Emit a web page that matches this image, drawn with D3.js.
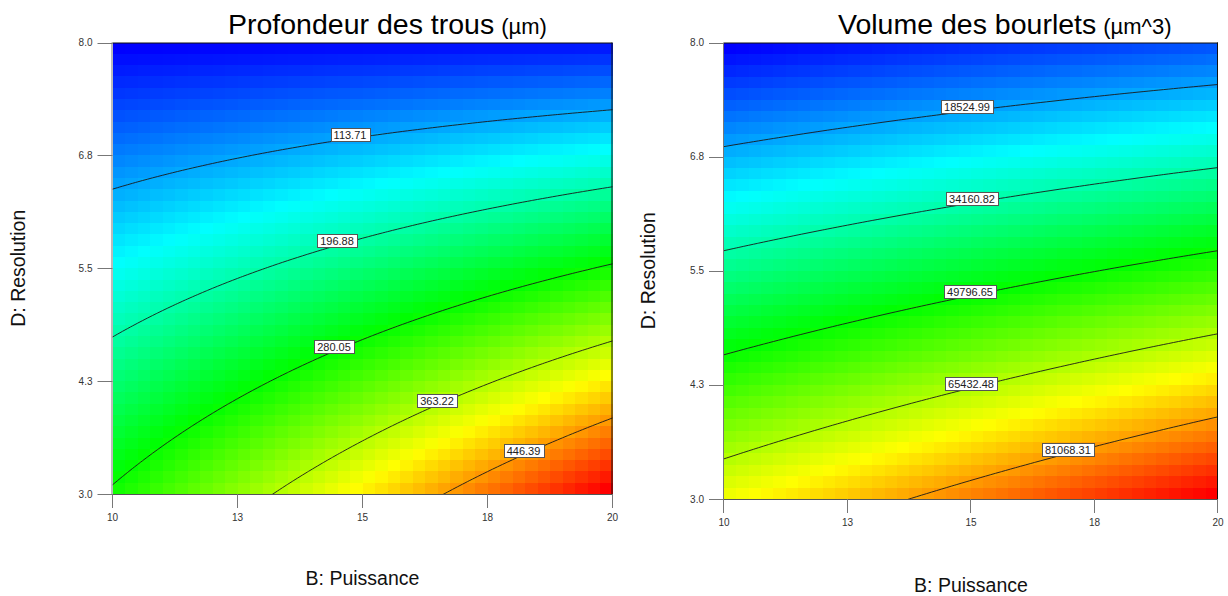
<!DOCTYPE html>
<html><head><meta charset="utf-8">
<script src="https://cdn.jsdelivr.net/npm/d3@7"></script>
<style>
body{margin:0;background:#fff;}
svg{display:block;font-family:Arial,"Liberation Sans",Helvetica,sans-serif;}
</style>
</head><body>
<svg id="chart" width="1228" height="596"></svg>
<script>
// ---- data ----
const puissance = [10, 12, 14, 16, 18, 20];          // B: Puissance (grid columns)
const resolution = [3, 4, 5, 6, 7, 8];               // D: Resolution (grid rows)
// Profondeur des trous (µm) — rows follow resolution, columns follow puissance
const profondeurGrid = [
  [285.2, 333.8, 382.5, 431.1, 479.8, 528.4],
  [234.4, 273.7, 313.0, 352.4, 391.7, 431.0],
  [183.6, 213.6, 243.6, 273.6, 303.6, 333.5],
  [132.8, 153.4, 174.1, 194.8, 215.4, 236.1],
  [ 82.0,  93.3, 104.7, 116.0, 127.3, 138.6],
  [ 31.2,  33.2,  35.2,  37.2,  39.2,  41.2]
];
// Volume des bourlets (µm^3)
const volumeGrid = [
  [71466, 76622, 81706, 86720, 91662, 96532],
  [57750, 62213, 66604, 70924, 75173, 79350],
  [44034, 47804, 51502, 55128, 58684, 62168],
  [30320, 33396, 36400, 39334, 42196, 44986],
  [16604, 18987, 21298, 23538, 25707, 27804],
  [ 2888,  4578,  6196,  7742,  9218, 10622]
];
const profondeurLevels = [113.71, 196.88, 280.05, 363.22, 446.39];
const profondeurLabelAt = [14.75, 14.49, 14.43, 16.49, 18.22];   // B where each label sits
const volumeLevels = [18524.99, 34160.82, 49796.65, 65432.48, 81068.31];
const volumeLabelAt = [14.92, 15.02, 14.98, 15.0, 16.96];
const xTickValues = [10, 12.5, 15, 17.5, 20];
const xTickLabels = ["10", "13", "15", "18", "20"];
const yTickValues = [3, 4.25, 5.5, 6.75, 8];
const yTickLabels = ["3.0", "4.3", "5.5", "6.8", "8.0"];

// ---- smooth surface through the grid (Catmull-Rom) ----
function cr1(p, t) {
  const n = p.length;
  const get = k => k < 0 ? 3*p[0]-3*p[1]+p[2] : (k > n-1 ? 3*p[n-1]-3*p[n-2]+p[n-3] : p[k]);
  let i = Math.floor(t); i = Math.max(0, Math.min(n-2, i));
  const s = t - i;
  const p0 = get(i-1), p1 = get(i), p2 = get(i+1), p3 = get(i+2);
  return 0.5*(2*p1 + (-p0+p2)*s + (2*p0-5*p1+4*p2-p3)*s*s + (-p0+3*p1-3*p2+p3)*s*s*s);
}
function surface(grid) {
  const bx0 = puissance[0], bdx = puissance[1]-puissance[0];
  const dy0 = resolution[0], ddy = resolution[1]-resolution[0];
  return (B, D) => {
    const tx = (B - bx0)/bdx, ty = (D - dy0)/ddy;
    const col = grid.map(row => cr1(row, tx));
    return cr1(col, ty);
  };
}

const svg = d3.select("#chart");

function drawPanel(cfg) {
  const g = svg.append("g");
  const x = d3.scaleLinear().domain([10, 20]).range([cfg.left, cfg.right]);
  const y = d3.scaleLinear().domain([3, 8]).range([cfg.bottom, cfg.top]);
  const f = surface(cfg.grid);

  // cells
  const nc = 40;
  const cells = [];
  for (let j = 0; j < nc; j++) for (let i = 0; i < nc; i++) {
    const b0 = 10 + i*10/nc, b1 = 10 + (i+1)*10/nc;
    const d0 = 3 + j*5/nc, d1 = 3 + (j+1)*5/nc;
    cells.push({b0, b1, d0, d1, v: f((b0+b1)/2, (d0+d1)/2)});
  }
  const ext = d3.extent(cells, c => c.v);
  const r = ext[1]-ext[0];
  const color = d3.scaleLinear()
    .domain([ext[0], ext[0]+0.25*r, ext[0]+0.5*r, ext[0]+0.75*r, ext[1]])
    .range(["#0000ff", "#00ffff", "#00ff00", "#ffff00", "#ff0000"]);
  g.append("g").selectAll("rect").data(cells).join("rect")
    .attr("x", c => Math.round(x(c.b0)))
    .attr("y", c => Math.round(y(c.d1)))
    .attr("width", c => Math.round(x(c.b1)) - Math.round(x(c.b0)))
    .attr("height", c => Math.round(y(c.d0)) - Math.round(y(c.d1)))
    .attr("fill", c => color(c.v))
    .attr("shape-rendering", "crispEdges");

  // contour lines
  const N = 103, bs = 9.9, bst = 0.1, ds = 2.95, dst = 0.05;
  const vals = new Array(N*N);
  for (let j = 0; j < N; j++) for (let i = 0; i < N; i++) vals[j*N+i] = f(bs + i*bst, ds + j*dst);
  const contours = d3.contours().size([N, N]).thresholds(cfg.levels)(vals);
  const px = cx => x(bs + (cx-0.5)*bst), py = cy => y(ds + (cy-0.5)*dst);
  const clipId = "clip" + cfg.id;
  svg.append("clipPath").attr("id", clipId).append("rect")
    .attr("x", cfg.left).attr("y", cfg.top)
    .attr("width", cfg.right-cfg.left).attr("height", cfg.bottom-cfg.top);
  g.append("g").attr("clip-path", `url(#${clipId})`).selectAll("path").data(contours).join("path")
    .attr("d", c => c.coordinates.map(poly => poly.map(ring =>
        "M" + ring.map(p => px(p[0]).toFixed(2) + "," + py(p[1]).toFixed(2)).join("L") + "Z").join("")).join(""))
    .attr("fill", "none").attr("stroke", "#1a1a1a").attr("stroke-width", 0.9);

  // labels
  cfg.levels.forEach((lv, k) => {
    const B = cfg.labelAt[k];
    let lo = 3, hi = 8;
    for (let it = 0; it < 60; it++) {
      const mid = (lo+hi)/2;
      if (f(B, mid) > lv) lo = mid; else hi = mid;
    }
    const cx = x(B), cy = y((lo+hi)/2) - 4;
    const lg = g.append("g");
    const rect = lg.append("rect");
    const t = lg.append("text").attr("x", cx).attr("y", cy + 4)
      .attr("text-anchor", "middle").attr("font-size", 11).attr("fill", "#222")
      .text(cfg.levelText[k]);
    const w = t.node().getComputedTextLength() + 6;
    rect.attr("x", Math.round(cx - w/2) + 0.5).attr("y", Math.round(cy - 7) + 0.5)
      .attr("width", Math.round(w)).attr("height", 13)
      .attr("fill", "#fff").attr("stroke", "#555").attr("stroke-width", 1);
  });

  // frame
  g.append("line").attr("x1", cfg.left).attr("x2", cfg.right).attr("y1", cfg.top+0.5).attr("y2", cfg.top+0.5)
    .attr("stroke", "#111");
  g.append("line").attr("x1", cfg.right-0.5).attr("x2", cfg.right-0.5).attr("y1", cfg.top).attr("y2", cfg.bottom)
    .attr("stroke", "#111");
  g.append("line").attr("x1", cfg.left-0.5).attr("x2", cfg.left-0.5).attr("y1", cfg.top).attr("y2", cfg.bottom)
    .attr("stroke", "#777");
  g.append("line").attr("x1", cfg.left).attr("x2", cfg.right).attr("y1", cfg.bottom+0.5).attr("y2", cfg.bottom+0.5)
    .attr("stroke", "#555");

  // x ticks
  xTickValues.forEach((v, k) => {
    const xx = Math.round(x(v)) - 0.5;
    g.append("line").attr("x1", xx).attr("x2", xx).attr("y1", cfg.bottom).attr("y2", cfg.bottom + 14)
      .attr("stroke", "#777");
    g.append("text").attr("x", x(v)).attr("y", cfg.bottom + 27).attr("text-anchor", "middle")
      .attr("font-size", 10).attr("fill", "#333").text(xTickLabels[k]);
  });
  // y ticks
  yTickValues.forEach((v, k) => {
    const yy = Math.round(y(v)) + 0.5;
    g.append("line").attr("x1", cfg.left - 15).attr("x2", cfg.left).attr("y1", yy).attr("y2", yy)
      .attr("stroke", "#777");
    g.append("text").attr("x", cfg.left - 20).attr("y", y(v) + 3.5).attr("text-anchor", "end")
      .attr("font-size", 10).attr("fill", "#333").text(yTickLabels[k]);
  });

  // axis titles
  g.append("text").attr("x", (cfg.left+cfg.right)/2).attr("y", cfg.xTitleY).attr("text-anchor", "middle")
    .attr("font-size", 19.5).attr("fill", "#111").text("B: Puissance");
  g.append("text").attr("transform", `translate(${cfg.yTitleX},${(cfg.top+cfg.bottom)/2}) rotate(-90)`)
    .attr("text-anchor", "middle").attr("font-size", 19.5).attr("fill", "#111").text("D: Resolution");

  // chart title
  const tt = g.append("text").attr("x", cfg.titleX).attr("y", 34).attr("fill", "#000");
  tt.append("tspan").attr("font-size", 28.5).text(cfg.title);
  tt.append("tspan").attr("font-size", 22).attr("dx", 7).text(cfg.unit);
}

drawPanel({
  id: "a", left: 112.5, right: 612.5, top: 42.5, bottom: 494,
  grid: profondeurGrid, levels: profondeurLevels, labelAt: profondeurLabelAt,
  levelText: profondeurLevels.map(v => v.toFixed(2)),
  title: "Profondeur des trous", unit: "(µm)", titleX: 228,
  xTitleY: 585, yTitleX: 25
});
drawPanel({
  id: "b", left: 724, right: 1218, top: 42.5, bottom: 499,
  grid: volumeGrid, levels: volumeLevels, labelAt: volumeLabelAt,
  levelText: volumeLevels.map(v => v.toFixed(2)),
  title: "Volume des bourlets", unit: "(µm^3)", titleX: 838,
  xTitleY: 592, yTitleX: 655
});
</script>
</body></html>
